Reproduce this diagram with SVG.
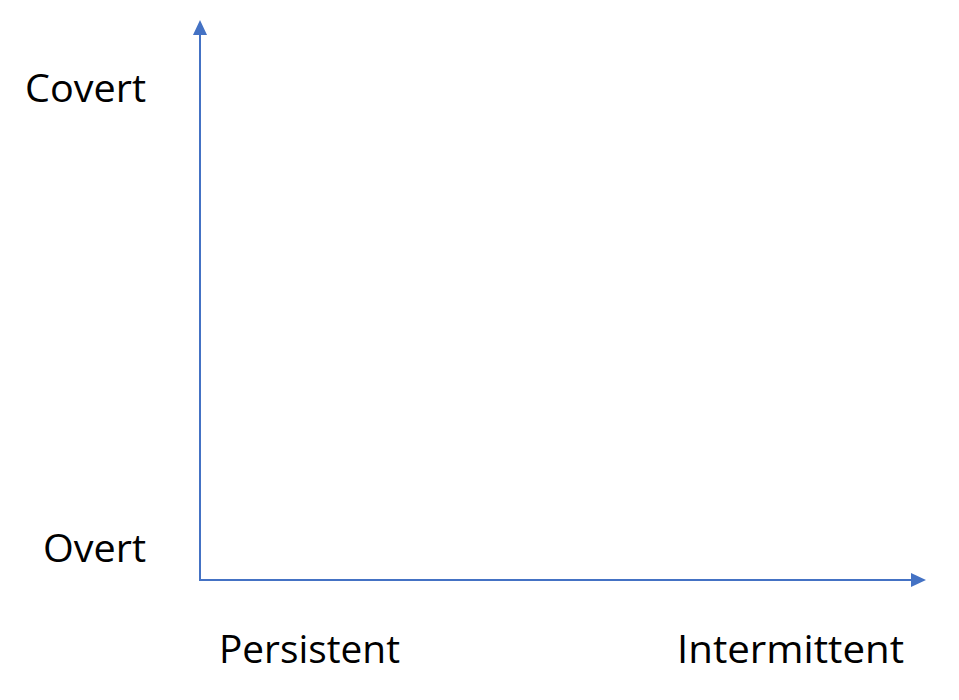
<svg xmlns="http://www.w3.org/2000/svg" width="959" height="700" viewBox="0 0 959 700">
<style>
.lbl{font-family:"Open Sans","Noto Sans",sans-serif;font-size:38px;fill:#000}
.ax{stroke:#4472C4;stroke-width:2;fill:none}
</style>
<rect width="959" height="700" fill="#fff"/>
<g id="connectors">
<path class="ax" d="M200,581 L200,34"/>
<path d="M193,35 L200,20 L207,35 Z" fill="#4472C4"/>
<path class="ax" d="M200,580 L912,580"/>
<path d="M911,573 L926,580 L911,587 Z" fill="#4472C4"/>
</g>
<g id="covert"><text class="lbl" x="146" y="102" text-anchor="end" textLength="121" lengthAdjust="spacingAndGlyphs">Covert</text></g>
<g id="overt"><text class="lbl" x="146" y="562" text-anchor="end" textLength="103" lengthAdjust="spacingAndGlyphs">Overt</text></g>
<g id="persistent"><text class="lbl" x="219" y="663" textLength="181" lengthAdjust="spacingAndGlyphs">Persistent</text></g>
<g id="intermittent"><text class="lbl" x="677" y="663" textLength="227" lengthAdjust="spacingAndGlyphs">Intermittent</text></g>
</svg>
